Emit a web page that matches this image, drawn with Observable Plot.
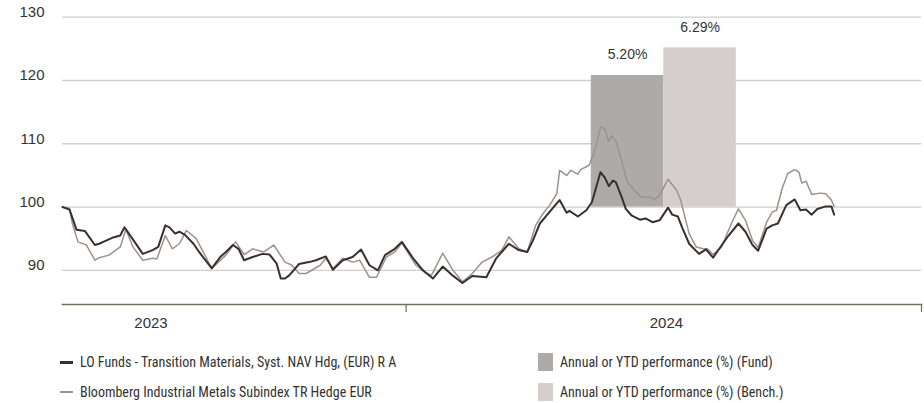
<!DOCTYPE html>
<html>
<head>
<meta charset="utf-8">
<script src="https://cdn.jsdelivr.net/npm/d3@7"></script>
<script src="https://cdn.jsdelivr.net/npm/@observablehq/plot@0.6"></script>
<style>
  html, body { margin: 0; padding: 0; background: #fff; }
  #wrap { position: relative; width: 924px; height: 403px; overflow: hidden; font-family: "Liberation Sans", Arial, sans-serif; }
  #chart { position: absolute; left: 0; top: 0; }
  .leg { position: absolute; font-family: "Liberation Sans Narrow", "Roboto Condensed", "DejaVu Sans Condensed", "Liberation Sans", sans-serif; font-stretch: condensed; font-size: 14px; color: #333; white-space: nowrap; line-height: 16px; }
  .sw { position: absolute; }
</style>
</head>
<body>
<div id="wrap">
  <div id="chart"></div>
</div>
<script>
// ---- Data ----
const fundName = "LO Funds - Transition Materials, Syst. NAV Hdg, (EUR) R A";
const benchName = "Bloomberg Industrial Metals Subindex TR Hedge EUR";
const barFundName = "Annual or YTD performance (%) (Fund)";
const barBenchName = "Annual or YTD performance (%) (Bench.)";

const fundDates = ["2023-05-02","2023-05-07","2023-05-12","2023-05-18","2023-05-25","2023-05-28","2023-06-02","2023-06-07","2023-06-12","2023-06-15","2023-06-21","2023-06-28","2023-07-05","2023-07-09","2023-07-14","2023-07-17","2023-07-21","2023-07-24","2023-07-28","2023-08-03","2023-08-07","2023-08-16","2023-08-22","2023-08-26","2023-08-31","2023-09-04","2023-09-08","2023-09-14","2023-09-21","2023-09-26","2023-10-01","2023-10-04","2023-10-07","2023-10-10","2023-10-17","2023-10-24","2023-10-29","2023-11-05","2023-11-10","2023-11-17","2023-11-24","2023-11-30","2023-12-06","2023-12-12","2023-12-17","2023-12-24","2023-12-29","2024-01-06","2024-01-13","2024-01-20","2024-01-27","2024-02-03","2024-02-10","2024-02-17","2024-02-27","2024-03-05","2024-03-14","2024-03-21","2024-03-27","2024-03-31","2024-04-05","2024-04-14","2024-04-19","2024-04-24","2024-04-26","2024-05-02","2024-05-08","2024-05-12","2024-05-18","2024-05-21","2024-05-24","2024-05-27","2024-05-29","2024-06-02","2024-06-05","2024-06-09","2024-06-15","2024-06-19","2024-06-24","2024-06-29","2024-07-05","2024-07-08","2024-07-12","2024-07-15","2024-07-20","2024-07-27","2024-08-01","2024-08-06","2024-08-10","2024-08-17","2024-08-24","2024-08-29","2024-09-03","2024-09-07","2024-09-13","2024-09-17","2024-09-21","2024-09-27","2024-10-03","2024-10-07","2024-10-11","2024-10-15","2024-10-19","2024-10-25","2024-10-29","2024-10-31"];
const fundValues = [100.0,99.6,96.4,96.2,94.0,94.2,94.7,95.2,95.5,96.8,94.9,92.6,93.2,93.7,97.1,96.8,95.8,96.1,95.6,94.2,92.9,90.3,92.1,92.9,94.0,93.4,91.6,92.1,92.6,92.5,91.1,88.7,88.7,89.2,91.0,91.3,91.6,92.2,90.1,91.6,92.1,93.3,90.8,90.0,92.4,93.4,94.5,91.9,90.0,88.7,90.6,89.2,88.0,89.1,88.9,91.9,94.2,93.2,92.9,94.7,97.4,99.8,101.1,99.1,99.4,98.5,99.5,100.8,105.5,104.7,103.3,104.2,103.9,101.6,99.7,98.7,98.0,98.2,97.6,97.9,99.9,98.8,98.5,96.8,94.2,92.6,93.3,92.0,93.3,95.5,97.4,96.1,94.0,93.1,96.6,97.1,97.4,100.3,101.2,99.5,99.6,98.8,99.7,100.1,100.1,98.8];

const benchDates = ["2023-05-02","2023-05-07","2023-05-09","2023-05-13","2023-05-19","2023-05-21","2023-05-25","2023-05-28","2023-06-04","2023-06-12","2023-06-16","2023-06-21","2023-06-28","2023-07-05","2023-07-08","2023-07-14","2023-07-19","2023-07-24","2023-07-29","2023-08-05","2023-08-16","2023-08-26","2023-09-02","2023-09-08","2023-09-14","2023-09-22","2023-09-29","2023-10-07","2023-10-12","2023-10-17","2023-10-22","2023-11-01","2023-11-05","2023-11-10","2023-11-17","2023-11-24","2023-11-29","2023-12-06","2023-12-11","2023-12-18","2023-12-24","2023-12-29","2024-01-08","2024-01-14","2024-01-19","2024-01-27","2024-02-03","2024-02-10","2024-02-17","2024-02-24","2024-03-02","2024-03-09","2024-03-14","2024-03-21","2024-03-27","2024-04-02","2024-04-07","2024-04-12","2024-04-17","2024-04-19","2024-04-24","2024-04-27","2024-05-02","2024-05-04","2024-05-10","2024-05-15","2024-05-18","2024-05-21","2024-05-24","2024-05-26","2024-05-29","2024-06-02","2024-06-06","2024-06-12","2024-06-16","2024-06-22","2024-06-25","2024-06-29","2024-07-05","2024-07-11","2024-07-14","2024-07-17","2024-07-20","2024-07-25","2024-07-30","2024-08-02","2024-08-06","2024-08-12","2024-08-19","2024-08-24","2024-08-29","2024-09-03","2024-09-07","2024-09-13","2024-09-17","2024-09-20","2024-09-24","2024-09-28","2024-10-03","2024-10-06","2024-10-08","2024-10-11","2024-10-15","2024-10-21","2024-10-25","2024-10-29","2024-10-31"];
const benchValues = [100.0,99.8,97.4,94.5,94.0,93.2,91.6,92.0,92.4,93.7,96.5,93.7,91.6,91.9,91.8,95.5,93.4,94.2,96.3,95.0,90.3,92.4,94.5,92.5,93.4,92.9,94.0,91.3,90.8,89.5,89.5,90.8,91.9,90.3,91.9,91.3,91.6,88.9,88.9,92.1,92.9,94.3,90.8,89.7,89.2,92.7,90.1,88.2,89.5,91.3,92.1,93.2,95.3,93.4,92.9,97.1,98.9,100.3,102.1,105.8,105.0,105.8,105.2,105.9,106.6,109.7,112.6,112.4,110.4,111.2,110.4,107.4,104.0,102.4,101.6,101.6,101.2,101.8,104.4,102.7,101.1,98.4,95.8,93.7,93.4,93.4,92.5,93.7,97.4,99.7,97.9,94.7,93.6,97.6,99.2,99.5,102.9,105.3,105.9,105.5,103.8,104.1,102.0,102.2,102.1,101.1,100.1];

const barYears = [2024];
const barFundPerf = [5.20];
const barBenchPerf = [6.29];

const yTicks = [90, 100, 110, 120, 130];
const yearTicks = ["2024-01-01", "2025-01-01"];
const yearLabels = [2023, 2024];
const xStart = "2023-05-02";
const xEnd = "2025-01-01";

// ---- Styles ----
const cFund = "#3a2f2f";
const cBench = "#9d928c";
const cBarFund = "#aeaaa9";
const cBarBench = "#d4cfcc";
const cAxis = "#6d6e5c";
const cGrid = "#cfcfcf";
const base = 100;      // index base on which bars stand
const barScale = 4;    // index points per 1% of performance
const halfBarDays = 51.5;

const parse = d3.utcParse("%Y-%m-%d");
const day = 864e5;
const fund = fundDates.map((d, i) => ({date: parse(d), value: fundValues[i]}));
const bench = benchDates.map((d, i) => ({date: parse(d), value: benchValues[i]}));
const bars = [];
barYears.forEach((yr, i) => {
  const mid = Date.UTC(yr, 6, 2);
  bars.push({x1: new Date(mid - halfBarDays * day), x2: new Date(mid), y: base + barFundPerf[i] * barScale, pct: barFundPerf[i], fill: cBarFund});
  bars.push({x1: new Date(mid), x2: new Date(mid + halfBarDays * day), y: base + barBenchPerf[i] * barScale, pct: barBenchPerf[i], fill: cBarBench});
});

const tickFont = "Liberation Sans, Arial, sans-serif";

const chart = Plot.plot({
  width: 924,
  height: 340,
  marginLeft: 62,
  marginRight: 3,
  marginTop: 16.7,
  marginBottom: 36,
  style: {fontFamily: tickFont, fontSize: "15px", color: "#333", background: "transparent"},
  x: {type: "utc", domain: [parse(xStart), parse(xEnd)]},
  y: {domain: [84.6, 130]},
  marks: [
    Plot.ruleY(yTicks, {stroke: cGrid, strokeWidth: 1.3}),
    Plot.rectY(bars, {x1: "x1", x2: "x2", y1: base, y2: "y", fill: "fill"}),
    Plot.text(bars, {x: d => new Date((+d.x1 + +d.x2) / 2), y: "y", text: d => d.pct.toFixed(2) + "%", lineAnchor: "bottom", dy: -16, fontSize: 14, fill: "#333"}),
    Plot.line(bench, {x: "date", y: "value", stroke: cBench, strokeWidth: 1.5}),
    Plot.line(fund, {x: "date", y: "value", stroke: cFund, strokeWidth: 2}),
    Plot.frame({anchor: "bottom", stroke: cAxis, strokeWidth: 1.6, strokeOpacity: 1}),
    Plot.axisY({ticks: yTicks, tickSize: 0, tickPadding: 18, dy: -5, fontSize: 15, fill: "#333", label: null}),
    Plot.axisX({ticks: yearTicks.map(parse), tickSize: 8, tickFormat: () => "", stroke: cAxis, strokeWidth: 1.2, label: null}),
    Plot.axisX({ticks: yearLabels.map(y => new Date(Date.UTC(y, 6, 1))), tickSize: 0, tickPadding: 13, dx: 4, tickFormat: d3.utcFormat("%Y"), fontSize: 15, fill: "#333", label: null})
  ]
});
document.getElementById("chart").appendChild(chart);

// ---- Legend ----
const wrap = document.getElementById("wrap");
const legendItems = [
  {kind: "line", color: cFund, w: 3, text: fundName, x: 60, y: 362},
  {kind: "line", color: cBench, w: 2, text: benchName, x: 60, y: 392},
  {kind: "box", color: cBarFund, text: barFundName, x: 538, y: 362},
  {kind: "box", color: cBarBench, text: barBenchName, x: 538, y: 392}
];
legendItems.forEach(it => {
  const sw = document.createElement("div");
  sw.className = "sw";
  if (it.kind === "line") {
    Object.assign(sw.style, {left: it.x + "px", top: (it.y - it.w / 2) + "px", width: "13px", height: it.w + "px", background: it.color});
  } else {
    Object.assign(sw.style, {left: it.x + "px", top: (it.y - 9) + "px", width: "15px", height: "18px", background: it.color});
  }
  wrap.appendChild(sw);
  const t = document.createElement("div");
  t.className = "leg";
  t.textContent = it.text;
  Object.assign(t.style, {left: (it.kind === "line" ? 80 : 560) + "px", top: (it.y - 8) + "px"});
  wrap.appendChild(t);
});
</script>
</body>
</html>
